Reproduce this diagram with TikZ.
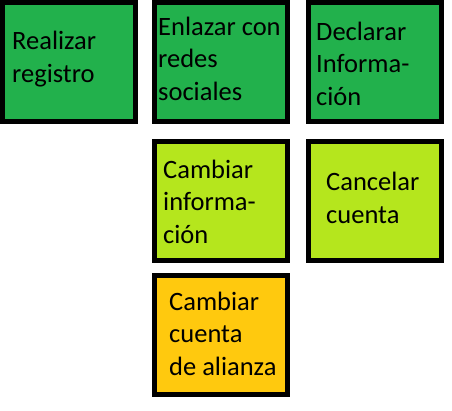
\documentclass[tikz,border=0pt]{standalone}
\usepackage{fontspec}
\setmainfont{Carlito}
\definecolor{dkgreen}{HTML}{22B14C}
\definecolor{ltgreen}{HTML}{B5E61D}
\definecolor{amber}{HTML}{FFC90E}
\begin{document}
\begin{tikzpicture}[x=1pt,y=-1pt,
  card/.style={draw=black,line width=5pt,rectangle,inner sep=0pt,minimum width=133pt,minimum height=119pt},
  lbl/.style={anchor=base west,align=left,inner sep=0pt,font=\fontsize{26.5}{32.5}\selectfont}]
\useasboundingbox[fill=white] (0,0) rectangle (452,410);
\node[card,fill=dkgreen] (b1) at (69,62) {};
\node[card,fill=dkgreen] (b2) at (221,62) {};
\node[card,fill=dkgreen] (b3) at (375,62) {};
\node[card,fill=ltgreen] (b4) at (220.5,200.5) {};
\node[card,fill=ltgreen] (b5) at (375,200.5) {};
\node[card,fill=amber] (b6) at (221,335) {};
\node[lbl] (t1) at (12,82) {Realizar\\registro};
\node[lbl] (t2) at (158,100) {Enlazar con\\redes\\sociales};
\node[lbl] (t3) at (316,105) {Declarar\\Informa-\\ción};
\node[lbl] (t4) at (163,243) {Cambiar\\informa-\\ción};
\node[lbl] (t5) at (326,223) {Cancelar\\cuenta};
\node[lbl] (t6) at (169,375) {Cambiar\\cuenta\\de alianza};
\end{tikzpicture}
\end{document}
